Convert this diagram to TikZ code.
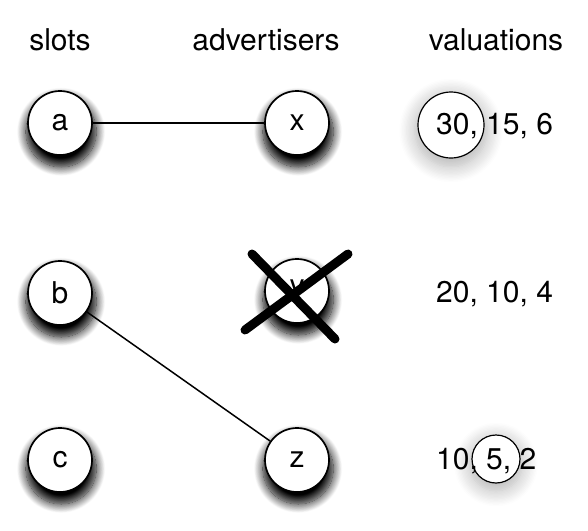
\documentclass[tikz,border=0pt]{standalone}
\usepackage{fontspec}
\setmainfont{TeX Gyre Heros}
\usetikzlibrary{shadows.blur}
\begin{document}
\begin{tikzpicture}[x=1pt,y=-1pt,
  vert/.style={circle, draw, line width=1.7pt, fill=white, minimum size=64pt, inner sep=0pt,
    font=\fontsize{30}{32}\selectfont,
    blur shadow={shadow xshift=1pt, shadow yshift=-8pt, shadow scale=1.1, shadow blur radius=8pt, shadow blur steps=14, shadow opacity=100}},
  hl/.style={circle, draw, line width=1.2pt, inner sep=0pt, fill=white,
    blur shadow={shadow xshift=0pt, shadow yshift=-5pt, shadow scale=1.1, shadow blur radius=14pt, shadow blur steps=12, shadow opacity=30}},
  head/.style={font=\fontsize{30}{32}\selectfont, inner sep=0pt},
  val/.style={font=\fontsize{30}{32}\selectfont, inner sep=0pt, anchor=west},
  edge/.style={line width=1.5pt},
  crossline/.style={line width=9pt, line cap=round}]
\useasboundingbox (0,0) rectangle (588,530);
% headers
\node[head] (hs) at (60,40) {slots};
\node[head] (ha) at (266,40) {advertisers};
\node[head] (hv) at (496,40) {valuations};
% highlight circles
\node[hl, minimum size=66pt] (h1) at (451,125) {};
\node[hl, minimum size=48pt] (h3) at (496,459) {};
% valuations
\node[val] (v1) at (436,126) {30, 15, 6};
\node[val] (v2) at (436,294) {20, 10, 4};
\node[val] (v3) at (436,461) {10, 5, 2};
% vertices
\node[vert] (a) at (60,123) {a};
\node[vert] (b) at (60,293) {b};
\node[vert] (c) at (60,460) {c};
\node[vert] (x) at (297,123) {x};
\node[vert] (y) at (297,291) {y};
\node[vert] (z) at (297,460) {z};
% edges
\draw[edge] (a) -- (x);
\draw[edge] (b) -- (z);
% cross
\coordinate (k1) at (252,254);
\coordinate (k2) at (335,339);
\coordinate (k3) at (348,254);
\coordinate (k4) at (245,330);
\draw[crossline] (k1) -- (k2);
\draw[crossline] (k3) -- (k4);
\end{tikzpicture}
\end{document}
